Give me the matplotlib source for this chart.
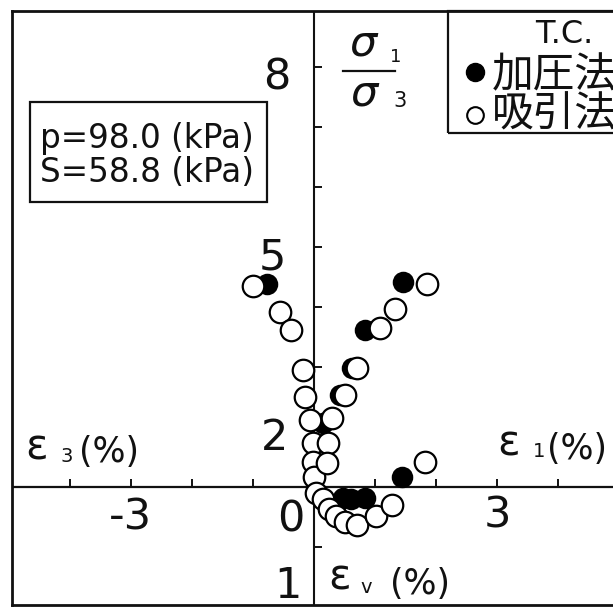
import matplotlib.pyplot as plt
from matplotlib.patches import Rectangle
from matplotlib.lines import Line2D

# strain (%) and principal stress ratio, triaxial compression
# 加圧法 (filled)
press_e3 = [-0.77]
press_ratio3 = [4.38]
press_e1 = [1.46, 0.84, 0.62, 0.43, 0.15]
press_ratio1 = [4.42, 3.62, 2.98, 2.53, 2.07]
press_ev_e1 = [0.48, 0.60, 0.84, 1.44]
press_ev = [0.09, 0.10, 0.09, -0.08]

# 吸引法 (open)
suct_e3 = [-1.00, -0.56, -0.38, -0.18, -0.15, -0.07, -0.02, -0.02, 0.0]
suct_ratio3 = [4.35, 3.92, 3.62, 2.95, 2.50, 2.12, 1.73, 1.42, 1.17]
suct_e1 = [1.85, 1.33, 1.08, 0.70, 0.51, 0.30, 0.23, 0.21]
suct_ratio1 = [4.38, 3.97, 3.65, 2.98, 2.53, 2.15, 1.73, 1.40]
suct_ev_e1 = [0.03, 0.15, 0.24, 0.36, 0.51, 0.71, 1.02, 1.28, 1.82]
suct_ev = [0.05, 0.10, 0.18, 0.24, 0.29, 0.32, 0.24, 0.15, -0.21]

x_ticks = [-4, -3, -2, -1, 1, 2, 3, 4]
ratio_ticks = [2, 3, 4, 5, 6, 7, 8]
ev_ticks = [0.5]

AXIS_Y = 1.0     # the strain axis sits at sigma1/sigma3 = 1
EV_SCALE = 2.0   # ratio units per 1 % of volumetric strain (drawn downward)


def ev_to_y(ev):
    return [AXIS_Y - EV_SCALE * v for v in ev]


W, H = 613, 608
fig = plt.figure(figsize=(W / 100, H / 100), dpi=100)


def fpos(x, y):
    return x / W, 1 - y / H


ax = fig.add_axes([12 / W, 3 / H, 601 / W, 594 / H])
ax.set_xlim(-4.951, 4.902)
ax.set_ylim(-0.967, 8.933)
for side in ['left', 'top', 'bottom']:
    ax.spines[side].set_linewidth(2.0)
    ax.spines[side].set_color('#111111')
ax.spines['right'].set_visible(False)
ax.set_xticks([])
ax.set_yticks([])

# the two crossing axes
ax.axvline(0, color='#111111', lw=1.5)
ax.axhline(AXIS_Y, color='#111111', lw=1.6)
ax.vlines(x_ticks, AXIS_Y, AXIS_Y + 0.13, color='#111111', lw=1.4)
ax.hlines(ratio_ticks, 0, 0.13, color='#111111', lw=1.4)
ax.hlines(ev_to_y(ev_ticks), 0, 0.13, color='#111111', lw=1.4)

mk = dict(linestyle='none', marker='o', markeredgecolor='black', clip_on=False)
ax.plot(press_e3, press_ratio3, markersize=14, markerfacecolor='black', mew=1.5, zorder=3, **mk)
ax.plot(press_e1, press_ratio1, markersize=14, markerfacecolor='black', mew=1.5, zorder=3, **mk)
ax.plot(press_ev_e1, ev_to_y(press_ev), markersize=14, markerfacecolor='black', mew=1.5, zorder=3, **mk)
ax.plot(suct_e3, suct_ratio3, markersize=15.5, markerfacecolor='white', mew=1.6, zorder=4, **mk)
ax.plot(suct_e1, suct_ratio1, markersize=15.5, markerfacecolor='white', mew=1.6, zorder=4, **mk)
ax.plot(suct_ev_e1, ev_to_y(suct_ev), markersize=15.5, markerfacecolor='white', mew=1.6, zorder=4, **mk)

num = dict(family='DejaVu Sans', fontsize=31, color='#111111')
fig.text(*fpos(277, 90), '8', ha='center', va='baseline', **num)
fig.text(*fpos(272, 270), '5', ha='center', va='baseline', **num)
fig.text(*fpos(274, 450), '2', ha='center', va='baseline', **num)
fig.text(*fpos(288, 598), '1', ha='center', va='baseline', **num)
fig.text(*fpos(130, 530), '-3', ha='center', va='baseline', **num)
fig.text(*fpos(291, 532), '0', ha='center', va='baseline', **num)
fig.text(*fpos(497, 528), '3', ha='center', va='baseline', **num)

# sigma1 / sigma3 label
sig = dict(fontsize=31, color='#111111', ha='center', va='center')
fig.text(*fpos(364, 44), r'$\sigma$', **sig)
fig.text(*fpos(365, 93), r'$\sigma$', **sig)
fig.text(*fpos(396, 57), '1', fontsize=13, ha='center', va='center', color='#111111')
fig.text(*fpos(400, 101), '3', fontsize=15, ha='center', va='center', color='#111111')
fig.add_artist(Line2D([343 / W, 395 / W], [1 - 71 / H, 1 - 71 / H], color='#111111', lw=1.6))

# strain labels
eps = dict(fontsize=30, color='#111111', va='baseline')
sub = dict(fontsize=14, color='#111111', va='baseline')
pct = dict(fontsize=25, color='#111111', va='baseline', ha='center')
fig.text(*fpos(25, 460), 'ε', **eps)
fig.text(*fpos(60, 462), '3', **sub)
fig.text(*fpos(109, 462), '(%)', **pct)
fig.text(*fpos(497, 455), 'ε', **eps)
fig.text(*fpos(533, 457), '1', **sub)
fig.text(*fpos(577, 459), '(%)', **pct)
fig.text(*fpos(328, 590), 'ε', **eps)
fig.text(*fpos(360, 593), 'v', **sub)
fig.text(*fpos(420, 594), '(%)', **pct)

# test condition box
fig.add_artist(Rectangle(fpos(30, 202), 237 / W, 100 / H, transform=fig.transFigure,
                         fill=False, lw=1.6, edgecolor='#111111'))
box = dict(family='DejaVu Sans', fontsize=23.5, color='#111111', va='baseline', ha='left')
fig.text(*fpos(40, 148), 'p=98.0 (kPa)', **box)
fig.text(*fpos(40, 182), 'S=58.8 (kPa)', **box)

# legend
fig.add_artist(Rectangle(fpos(448, 133), 200 / W, 122 / H, transform=fig.transFigure,
                         fill=False, lw=1.6, edgecolor='#111111'))
fig.text(*fpos(564, 43), 'T.C.', family='DejaVu Sans', fontsize=23, color='#111111',
         ha='center', va='baseline')
fig.add_artist(Line2D([475 / W], [1 - 72 / H], marker='o', markersize=13,
                      markerfacecolor='black', markeredgecolor='black', linestyle='none'))
fig.add_artist(Line2D([475 / W], [1 - 115 / H], marker='o', markersize=12, mew=1.5,
                      markerfacecolor='white', markeredgecolor='black', linestyle='none'))
cjk = dict(family=['Noto Sans CJK JP', 'DejaVu Sans'], fontsize=30, color='#111111',
           ha='left', va='baseline')
fig.text(*fpos(492, 87), '加圧法', **cjk)
fig.text(*fpos(492, 127), '吸引法', **cjk)

fig.savefig('out.png', dpi=100)
